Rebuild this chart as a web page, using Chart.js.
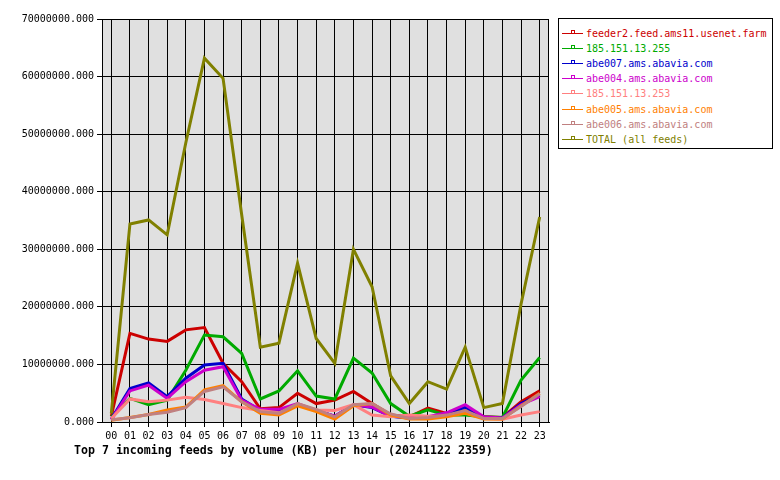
<!DOCTYPE html>
<html>
<head>
<meta charset="utf-8">
<script src="https://cdn.jsdelivr.net/npm/chart.js@4"></script>
<style>
  html, body { margin: 0; padding: 0; background: #fff; }
  #wrap { position: relative; width: 780px; height: 480px; }
  #c { position: absolute; left: 0; top: 0; }
  #legend { position: absolute; left: 558px; top: 18px; width: 215px; height: 131px;
    border: 1px solid #000; box-sizing: border-box; background: #fff;
    font-family: "DejaVu Sans Mono", monospace; font-size: 10px; }
  .row { position: absolute; left: 0; height: 15px; line-height: 15px; white-space: nowrap; }
  .ln { position: absolute; left: 3px; width: 21px; top: 7px; height: 1px; }
  .mk { position: absolute; left: 12px; top: 4px; width: 2px; height: 2px; border: 1px solid; background: #fff; }
  .tx { position: absolute; left: 27px; top: 0; }
  #title { position: absolute; left: 74px; top: 443px; font-family: "DejaVu Sans Mono", monospace;
    font-weight: bold; font-size: 11.6px; color: #000; white-space: nowrap; }
</style>
</head>
<body>
<div id="wrap">
  <canvas id="c" width="780" height="480"></canvas>
  <div id="legend"></div>
  <div id="title">Top 7 incoming feeds by volume (KB) per hour (20241122 2359)</div>
</div>
<script>
// ---- data (values in millions of KB) ----
const hours = ['00','01','02','03','04','05','06','07','08','09','10','11','12','13','14','15','16','17','18','19','20','21','22','23'];
const seriesNames = ['feeder2.feed.ams11.usenet.farm','185.151.13.255','abe007.ams.abavia.com','abe004.ams.abavia.com','185.151.13.253','abe005.ams.abavia.com','abe006.ams.abavia.com','TOTAL (all feeds)'];
const feeder2 = [1.0, 15.4, 14.4, 14.0, 16.0, 16.4, 10.2, 7.0, 2.3, 2.5, 5.0, 3.2, 3.8, 5.3, 3.2, 1.2, 0.9, 2.4, 1.5, 2.0, 0.9, 0.8, 3.5, 5.4];
const ip255   = [0.9, 4.1, 3.0, 3.8, 9.0, 15.1, 14.8, 11.9, 4.0, 5.4, 8.9, 4.5, 4.0, 11.1, 8.5, 3.2, 1.0, 2.1, 1.2, 1.2, 0.9, 0.8, 7.3, 11.2];
const abe007  = [0.5, 5.8, 6.8, 4.4, 7.6, 9.9, 10.2, 4.0, 2.0, 2.0, 3.0, 2.0, 1.0, 3.0, 2.5, 1.0, 0.7, 0.8, 1.3, 2.6, 0.8, 0.7, 3.2, 4.7];
const abe004  = [0.4, 5.4, 6.4, 4.1, 7.0, 9.0, 9.6, 3.8, 2.2, 2.2, 3.2, 2.0, 1.0, 3.0, 2.6, 1.0, 0.8, 0.9, 1.6, 3.0, 0.9, 0.7, 3.0, 4.4];
const ip253   = [0.6, 4.0, 3.5, 3.8, 4.3, 3.9, 3.2, 2.5, 2.0, 1.6, 3.0, 2.1, 2.0, 3.0, 1.2, 0.9, 1.2, 1.0, 1.0, 1.8, 0.6, 0.5, 1.2, 1.8];
const abe005  = [0.3, 0.8, 1.3, 2.1, 2.6, 5.6, 6.3, 3.5, 1.5, 1.2, 2.8, 1.8, 0.5, 2.8, 3.2, 1.2, 0.5, 0.5, 0.9, 1.5, 0.5, 0.5, 2.8, 5.0];
const abe006  = [0.4, 0.75, 1.3, 1.7, 2.5, 5.3, 6.1, 3.5, 1.8, 1.5, 3.2, 2.2, 0.9, 3.0, 3.2, 1.4, 0.6, 0.8, 1.2, 2.0, 0.6, 0.6, 2.7, 4.9];
const total   = [1.5, 34.4, 35.1, 32.5, 48.5, 63.2, 59.7, 36.0, 13.0, 13.7, 27.6, 14.5, 10.2, 30.0, 23.5, 8.0, 3.2, 7.0, 5.7, 13.0, 2.5, 3.2, 20.5, 35.6];
const yTicks = [0, 10000000, 20000000, 30000000, 40000000, 50000000, 60000000, 70000000];
const unit = 1000000;

const seriesValues = [feeder2, ip255, abe007, abe004, ip253, abe005, abe006, total];
const colors = ['#cc0000','#00aa00','#0000cc','#cc00cc','#ff8080','#ff8000','#c08080','#808000'];

const datasets = seriesValues.map((vals, i) => ({
  label: seriesNames[i],
  data: vals.map(v => v * unit),
  borderColor: colors[i],
  backgroundColor: colors[i],
  borderWidth: 3,
  pointRadius: 0,
  tension: 0,
  fill: false,
  order: seriesValues.length - i
}));

const areaPlugin = {
  id: 'area',
  beforeDraw(chart) {
    const a = chart.chartArea, ctx = chart.ctx;
    ctx.save();
    ctx.fillStyle = '#e0e0e0';
    ctx.fillRect(a.left, a.top, a.right - a.left, a.bottom - a.top);
    ctx.restore();
  },
  beforeDatasetsDraw(chart) {
    const a = chart.chartArea, ctx = chart.ctx;
    ctx.save();
    ctx.strokeStyle = '#000';
    ctx.lineWidth = 1;
    ctx.strokeRect(Math.round(a.left) + 0.5, Math.round(a.top) + 0.5, Math.round(a.right - a.left) - 1, Math.round(a.bottom - a.top));
    ctx.restore();
  }
};

const font = { family: '"DejaVu Sans Mono", monospace', size: 10 };

new Chart(document.getElementById('c'), {
  type: 'line',
  data: { labels: hours, datasets },
  plugins: [areaPlugin],
  options: {
    responsive: false,
    animation: false,
    layout: { padding: { left: 0, right: 231, top: 19, bottom: 0 } },
    plugins: { legend: { display: false }, tooltip: { enabled: false }, title: { display: false } },
    scales: {
      x: {
        offset: true,
        grid: { color: '#000', lineWidth: 1, tickLength: 5, offset: false },
        border: { color: '#000' },
        ticks: { color: '#000', font, padding: 3, maxRotation: 0, autoSkip: false },
        afterFit(s) { s.height = 58; }
      },
      y: {
        min: 0, max: 70000000,
        afterBuildTicks(s) { s.ticks = yTicks.map(v => ({ value: v })); },
        grid: { color: '#000', lineWidth: 1, tickLength: 5 },
        border: { color: '#000' },
        ticks: { color: '#000', font, padding: 3, callback: v => v.toFixed(3) },
        afterFit(s) { s.width = 102; }
      }
    }
  }
});

// HTML legend
const leg = document.getElementById('legend');
seriesNames.forEach((name, i) => {
  const r = document.createElement('div');
  r.className = 'row';
  r.style.top = (7 + i * 15.1) + 'px';
  r.style.width = '100%';
  r.innerHTML = '<span class="ln" style="background:' + colors[i] + '"></span>' +
    '<span class="mk" style="border-color:' + colors[i] + '"></span>' +
    '<span class="tx" style="color:' + colors[i] + '"></span>';
  r.querySelector('.tx').textContent = name;
  leg.appendChild(r);
});
</script>
</body>
</html>
